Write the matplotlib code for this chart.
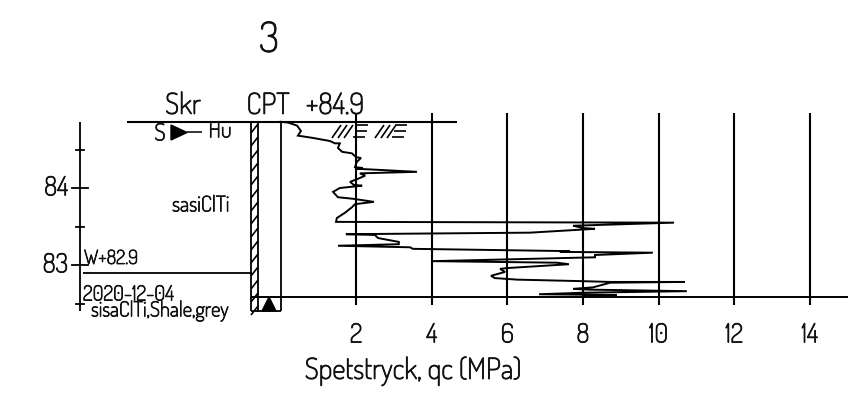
import matplotlib.pyplot as plt
import matplotlib.patheffects as pe
from matplotlib.transforms import Affine2D

# sounding profile, tip resistance (MPa) against elevation (m)
qc = [0, 0.2, 0.44, 0.54, 0.46, 0.86, 1.31, 1.44, 1.57, 1.52, 1.63, 1.89, 2.0, 2.13, 2.02, 1.97, 2.18, 2.02,
      3.61, 2.10, 2.24, 2.05, 1.84, 1.94, 2.16, 1.57, 1.39, 1.52, 1.92, 2.47, 1.97, 1.89, 1.71, 1.49, 1.47,
      10.41, 7.74, 8.0, 8.32, 6.6, 1.73, 2.5, 2.58, 3.13, 3.13, 1.52, 3.43, 3.5, 7.66, 7.39, 9.85, 8.32, 8.32,
      4.03, 7.31, 7.63, 5.99, 5.81, 5.94, 5.57, 5.67, 6.26, 8.0, 8.72, 10.7, 8.72, 8.27, 7.74, 8.19, 10.75,
      8.0, 6.84, 8.9, 8.0]
elev = [84.86, 84.85, 84.81, 84.74, 84.68, 84.65, 84.61, 84.58, 84.58, 84.52, 84.47, 84.45, 84.40, 84.39, 84.34,
        84.27, 84.26, 84.25, 84.21, 84.19, 84.16, 84.12, 84.08, 84.04, 84.03, 84.0, 83.95, 83.88, 83.86, 83.82,
        83.79, 83.75, 83.68, 83.61, 83.56, 83.55, 83.51, 83.48, 83.47, 83.42, 83.40, 83.39, 83.35, 83.30, 83.27,
        83.25, 83.23, 83.21, 83.18, 83.17, 83.16, 83.13, 83.10, 83.05, 83.03, 83.01, 82.96, 82.95, 82.91, 82.86,
        82.83, 82.81, 82.79, 82.78, 82.78, 82.77, 82.71, 82.69, 82.68, 82.66, 82.64, 82.62, 82.61, 82.60]
qc_ticks = [2, 4, 6, 8, 10, 12, 14]
major_elev = [84, 83]
minor_elev = [84.5, 83.5, 82.5]

plt.rcParams['font.family'] = ['Dosis', 'Liberation Sans', 'DejaVu Sans']

fig = plt.figure(figsize=(8.6, 4.05), dpi=100)
ax = fig.add_axes([0, 0, 1, 1])
ax.set_xlim((0 - 280.5) / 37.8, (860 - 280.5) / 37.8)
ax.set_ylim(84 - (405 - 188) / 77, 84 + 188 / 77)
ax.axis('off')

# pixel positions for the drawing furniture
px = Affine2D().scale(1, -1).translate(0, 405)
heavy = [pe.withStroke(linewidth=0.6, foreground='#111111')]


def line(xs, ys, lw=1.4):
    ax.plot(xs, ys, color='black', lw=lw, transform=px, solid_capstyle='butt', clip_on=False)


def label(x, y, s, size, ha='center'):
    ax.text(x, y, s, fontsize=size, ha=ha, va='center', transform=px, color='#111111', path_effects=heavy)


ax.plot(qc, elev, color='black', lw=1.4, solid_joinstyle='miter')

# grid and x labels
for q in qc_ticks:
    xp = 280.5 + q * 37.8
    line([xp, xp], [113, 305], lw=1.5)
    label(xp, 335, str(q), 19)

line([127, 457], [122, 122], lw=1.5)
line([251, 848], [297, 297], lw=1.4)

# elevation axis
line([80, 80], [122, 311], lw=1.3)
for e in major_elev:
    ax.plot([-5.52, -5.09], [e, e], color='black', lw=1.3)
    ax.text(-5.62, e, str(e), fontsize=19, ha='right', va='center', color='#111111', path_effects=heavy)
for e in minor_elev:
    ax.plot([-5.41, -5.2], [e, e], color='black', lw=1.3)

# borehole column
for xp in (251, 258, 281):
    line([xp, xp], [122, 311], lw=1.3)
line([251, 281], [311, 311], lw=1.3)
for yp in range(133, 316, 13):
    line([251, 258], [yp, yp - 9], lw=1.2)
ax.fill([262, 276, 269], [311, 311, 297], color='black', transform=px)

# ground water marker
ax.fill([171, 171, 187], [125, 140, 132.5], color='black', transform=px)
line([187, 202], [132, 132], lw=1.1)
label(160, 134, 'S', 17)
label(220, 131, 'Hu', 16)

# water level
line([83, 252], [273, 273], lw=1.3)
label(84, 259, 'W+82.9', 14, ha='left')
label(83, 295, '2020-12-04', 15, ha='left')
label(91, 311, 'sisaClTi,Shale,grey', 15, ha='left')
label(172, 206, 'sasiClTi', 15.5, ha='left')

# surface symbol
for x0 in (332, 375):
    for i in range(3):
        line([x0 + i * 6, x0 + i * 6 + 9], [138, 125], lw=1.2)
for x0 in (356, 395):
    for j, yp in enumerate((125, 131, 137)):
        line([x0 - j * 1.5, x0 + 12 - j * 1.5], [yp, yp], lw=1.2)

# headers
label(183, 106, 'Skr', 21)
label(268, 106, 'CPT', 21)
label(335, 106, '+84.9', 21)
label(269, 41, '3', 30)
label(413, 371, 'Spetstryck, qc (MPa)', 21)

plt.savefig('out.png', dpi=100)
